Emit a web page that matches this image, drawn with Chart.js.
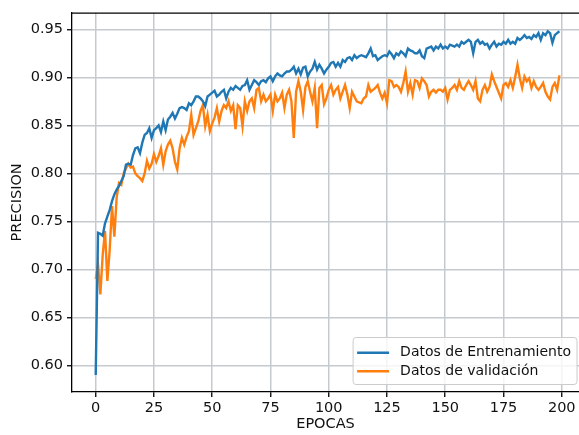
<!DOCTYPE html>
<html><head><meta charset="utf-8">
<script src="https://cdn.jsdelivr.net/npm/chart.js@4.4.0/dist/chart.umd.min.js"></script>
<style>html,body{margin:0;padding:0;background:#fff;overflow:hidden}canvas{display:block}</style>
</head><body>
<canvas id="c" width="579" height="435"></canvas>
<script>
const seriesNames = ['Datos de Entrenamiento', 'Datos de validación'];
const seriesColors = ['#1f77b4', '#ff7f0e'];
const xTicks = [0, 25, 50, 75, 100, 125, 150, 175, 200];
const yTicks = [0.60, 0.65, 0.70, 0.75, 0.80, 0.85, 0.90, 0.95];
const trainAcc = [
0.590,0.738,0.737,0.735,0.748,0.755,0.762,0.771,0.778,0.783,
0.787,0.792,0.797,0.809,0.810,0.809,0.819,0.826,0.827,0.821,
0.832,0.840,0.842,0.847,0.837,0.845,0.847,0.850,0.843,0.854,
0.845,0.856,0.859,0.863,0.857,0.862,0.868,0.869,0.868,0.866,
0.873,0.871,0.875,0.880,0.880,0.878,0.875,0.870,0.880,0.882,
0.884,0.886,0.880,0.882,0.885,0.887,0.878,0.885,0.889,0.887,
0.891,0.889,0.887,0.891,0.892,0.897,0.887,0.892,0.897,0.895,
0.892,0.896,0.897,0.895,0.899,0.901,0.896,0.901,0.904,0.902,
0.901,0.904,0.906,0.906,0.908,0.911,0.904,0.909,0.903,0.910,
0.911,0.901,0.906,0.909,0.916,0.908,0.913,0.909,0.904,0.908,
0.911,0.915,0.916,0.911,0.915,0.911,0.918,0.916,0.920,0.921,
0.918,0.923,0.920,0.922,0.923,0.922,0.921,0.925,0.930,0.922,
0.923,0.918,0.920,0.922,0.923,0.922,0.927,0.924,0.920,0.925,
0.923,0.927,0.925,0.922,0.930,0.928,0.927,0.925,0.925,0.928,
0.922,0.920,0.930,0.931,0.932,0.928,0.932,0.930,0.934,0.930,
0.932,0.930,0.934,0.933,0.932,0.934,0.932,0.937,0.935,0.937,
0.939,0.937,0.925,0.937,0.939,0.935,0.937,0.934,0.935,0.930,
0.934,0.937,0.932,0.935,0.934,0.937,0.935,0.939,0.935,0.937,
0.935,0.941,0.939,0.941,0.944,0.941,0.942,0.940,0.944,0.942,
0.946,0.939,0.946,0.944,0.948,0.946,0.936,0.944,0.946,0.948
];
const valAcc = [
0.690,0.705,0.674,0.715,0.740,0.688,0.720,0.766,0.734,0.775,
0.790,0.788,0.800,0.805,0.810,0.806,0.807,0.800,0.797,0.795,
0.792,0.800,0.813,0.805,0.810,0.820,0.812,0.818,0.826,0.809,
0.823,0.830,0.834,0.826,0.812,0.804,0.826,0.837,0.830,0.838,
0.844,0.861,0.840,0.847,0.854,0.865,0.871,0.849,0.861,0.844,
0.852,0.858,0.868,0.854,0.865,0.871,0.868,0.875,0.865,0.871,
0.846,0.871,0.868,0.849,0.875,0.865,0.875,0.878,0.868,0.887,
0.889,0.875,0.882,0.875,0.878,0.882,0.865,0.882,0.875,0.878,
0.884,0.868,0.882,0.887,0.875,0.837,0.885,0.896,0.885,0.866,
0.890,0.896,0.885,0.875,0.889,0.847,0.889,0.892,0.872,0.878,
0.887,0.892,0.882,0.887,0.890,0.878,0.885,0.892,0.882,0.868,
0.885,0.880,0.875,0.874,0.873,0.878,0.880,0.892,0.885,0.887,
0.889,0.892,0.884,0.878,0.884,0.873,0.897,0.896,0.890,0.892,
0.890,0.885,0.894,0.906,0.885,0.894,0.882,0.897,0.896,0.889,
0.899,0.896,0.892,0.880,0.885,0.887,0.884,0.887,0.887,0.885,
0.889,0.877,0.887,0.889,0.892,0.887,0.896,0.889,0.887,0.892,
0.896,0.892,0.887,0.896,0.878,0.875,0.887,0.892,0.885,0.890,
0.903,0.896,0.890,0.884,0.878,0.892,0.894,0.890,0.897,0.889,
0.900,0.913,0.899,0.889,0.901,0.896,0.899,0.889,0.896,0.890,
0.887,0.890,0.894,0.885,0.880,0.877,0.890,0.894,0.887,0.902
];
const epochs = trainAcc.map((_, i) => i);

const FONT = 'DejaVu Sans';
const gridColor = '#c5cacf';

const framePlugin = {
  id: 'frame',
  afterDraw(chart) {
    const {ctx, chartArea: ca} = chart;
    ctx.save();
    ctx.strokeStyle = '#000';
    ctx.lineWidth = 1.3;
    ctx.beginPath();
    ctx.moveTo(ca.left, ca.top + 0.5);
    ctx.lineTo(ca.right, ca.top + 0.5);
    ctx.stroke();
    // legend (inside, lower right)
    ctx.font = '14px "' + FONT + '"';
    const rowH = 18.5;
    const textW = Math.max(...seriesNames.map(s => ctx.measureText(s).width));
    const bw = 4 + 32 + 11 + textW + 6;
    const bh = 8 + rowH * seriesNames.length + 2;
    const bx = ca.right - 2 - bw;
    const by = ca.bottom - 7.5 - bh;
    ctx.fillStyle = 'rgba(255,255,255,0.8)';
    ctx.strokeStyle = '#cccccc';
    ctx.lineWidth = 1;
    const r = 3;
    ctx.beginPath();
    ctx.moveTo(bx + r, by);
    ctx.lineTo(bx + bw - r, by);
    ctx.quadraticCurveTo(bx + bw, by, bx + bw, by + r);
    ctx.lineTo(bx + bw, by + bh - r);
    ctx.quadraticCurveTo(bx + bw, by + bh, bx + bw - r, by + bh);
    ctx.lineTo(bx + r, by + bh);
    ctx.quadraticCurveTo(bx, by + bh, bx, by + bh - r);
    ctx.lineTo(bx, by + r);
    ctx.quadraticCurveTo(bx, by, bx + r, by);
    ctx.closePath();
    ctx.fill();
    ctx.stroke();
    seriesNames.forEach((name, i) => {
      const cy = by + 8 + rowH * i + rowH / 2 - 2;
      ctx.strokeStyle = seriesColors[i];
      ctx.lineWidth = 2.4;
      ctx.beginPath();
      ctx.moveTo(bx + 4, cy);
      ctx.lineTo(bx + 36, cy);
      ctx.stroke();
      ctx.fillStyle = '#111';
      ctx.textBaseline = 'middle';
      ctx.textAlign = 'left';
      ctx.fillText(name, bx + 47, cy);
    });
    ctx.restore();
  }
};

new Chart(document.getElementById('c'), {
  type: 'line',
  data: {
    datasets: [
      { label: seriesNames[0], data: epochs.map((e, i) => ({x: e, y: trainAcc[i]})),
        borderColor: seriesColors[0], borderWidth: 2.4, pointRadius: 0, tension: 0, fill: false },
      { label: seriesNames[1], data: epochs.map((e, i) => ({x: e, y: valAcc[i]})),
        borderColor: seriesColors[1], borderWidth: 2.4, pointRadius: 0, tension: 0, fill: false }
    ]
  },
  options: {
    responsive: false,
    animation: false,
    devicePixelRatio: 1,
    layout: { padding: { top: 11, left: 0, right: 0, bottom: 0 } },
    plugins: { legend: { display: false }, tooltip: { enabled: false } },
    scales: {
      x: {
        type: 'linear', min: -10.17, max: 207.4,
        afterBuildTicks: (axis) => { axis.ticks = xTicks.map(v => ({value: v})); },
        afterFit: (scale) => { scale.height = 43; },
        grid: { color: gridColor, lineWidth: 1.5, drawTicks: true, tickLength: 5, tickColor: '#000', tickWidth: 1.3 },
        border: { display: true, color: '#000', width: 1.3 },
        ticks: { color: '#111', padding: 3, maxRotation: 0, autoSkip: false, font: { family: FONT, size: 14.5 }, callback: v => String(v) },
        title: { display: true, text: 'EPOCAS', color: '#111', font: { family: FONT, size: 14.5 }, padding: { top: 0, bottom: 2 } }
      },
      y: {
        type: 'linear', min: 0.5723, max: 0.9673,
        afterBuildTicks: (axis) => { axis.ticks = yTicks.map(v => ({value: v})); },
        afterFit: (scale) => { scale.width = 72; },
        grid: { color: gridColor, lineWidth: 1.5, drawTicks: true, tickLength: 5, tickColor: '#000', tickWidth: 1.3 },
        border: { display: true, color: '#000', width: 1.3 },
        ticks: { color: '#111', padding: 4, autoSkip: false, font: { family: FONT, size: 14.5 }, callback: v => Number(v).toFixed(2) },
        title: { display: true, text: 'PRECISION', color: '#111', font: { family: FONT, size: 14.5 }, padding: { top: 8.5, bottom: 0 } }
      }
    }
  },
  plugins: [framePlugin]
});
</script>
</body></html>
